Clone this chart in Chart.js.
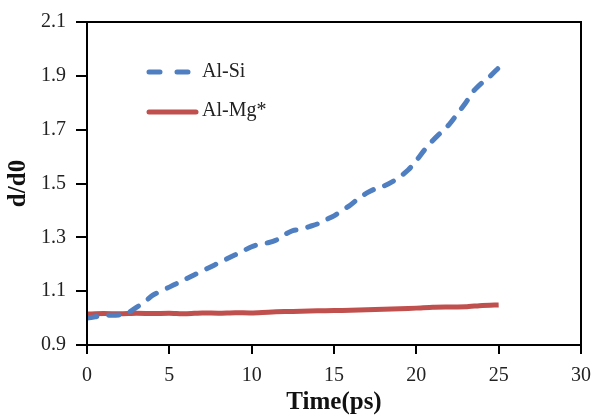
<!DOCTYPE html>
<html lang="en">
<head>
<meta charset="UTF-8">
<title>d/d0 vs time</title>
<script src="https://cdn.jsdelivr.net/npm/chart.js@4/dist/chart.umd.min.js"></script>
<style>
  html, body { margin: 0; padding: 0; background: #fff; }
  #wrap { width: 595px; height: 420px; }
</style>
</head>
<body>
<div id="wrap"><canvas id="chart" width="595" height="420"></canvas></div>
<script>
// values
const siTime = [0, 0.5, 1, 2, 2.5, 3, 3.5, 4, 4.5, 5, 5.5, 6, 6.5, 7, 7.5, 8, 8.5, 9, 9.5, 10,
  10.5, 11, 11.5, 12, 12.5, 13, 13.5, 14, 14.5, 15, 15.5, 16, 16.5, 17, 17.5, 18, 18.5, 19, 19.5, 20,
  20.5, 21, 21.5, 22, 22.5, 23, 23.5, 24, 24.5, 25];
const siRatio = [1.00, 1.005, 1.01, 1.012, 1.02, 1.04, 1.06, 1.085, 1.10, 1.115, 1.13, 1.145, 1.16, 1.175, 1.19, 1.205, 1.22, 1.235, 1.25, 1.265,
  1.275, 1.28, 1.29, 1.31, 1.325, 1.33, 1.34, 1.35, 1.365, 1.38, 1.40, 1.42, 1.445, 1.465, 1.48, 1.49, 1.505, 1.525, 1.55, 1.585,
  1.625, 1.66, 1.69, 1.72, 1.76, 1.80, 1.845, 1.875, 1.90, 1.93];
const mgTime = [0, 1, 2, 3, 4, 5, 6, 7, 8, 9, 10, 11, 12, 13, 14, 15, 16, 17, 18, 19, 20, 21, 22, 23, 24, 25];
const mgRatio = [1.015, 1.017, 1.016, 1.018, 1.017, 1.018, 1.016, 1.019, 1.018, 1.020, 1.019, 1.022, 1.024, 1.025, 1.027, 1.028,
  1.029, 1.031, 1.033, 1.035, 1.037, 1.040, 1.041, 1.042, 1.047, 1.049];
const seriesNames = ['Al-Si', 'Al-Mg*'];
const xTicks = [0, 5, 10, 15, 20, 25, 30];
const yTicks = [0.9, 1.1, 1.3, 1.5, 1.7, 1.9, 2.1];

const blue = '#4f7fc0';
const red = '#c0504d';
const serif = "'Liberation Serif', 'Times New Roman', serif";

// box round the plot plus the legend inside it
const frameAndLegend = {
  id: 'frameAndLegend',
  afterDraw(chart) {
    const ctx = chart.ctx;
    const a = chart.chartArea;
    ctx.save();
    ctx.strokeStyle = '#000';
    ctx.lineWidth = 2;
    ctx.strokeRect(a.left, a.top, a.right - a.left, a.bottom - a.top);

    ctx.lineWidth = 5;
    ctx.lineCap = 'round';
    ctx.strokeStyle = blue;
    ctx.setLineDash([11, 17]);
    ctx.beginPath();
    ctx.moveTo(149, 72); ctx.lineTo(192, 72);
    ctx.stroke();
    ctx.setLineDash([]);
    ctx.strokeStyle = red;
    ctx.beginPath();
    ctx.moveTo(149, 112); ctx.lineTo(196, 112);
    ctx.stroke();

    ctx.fillStyle = '#222';
    ctx.font = '20px ' + serif;
    ctx.textBaseline = 'middle';
    ctx.fillText(seriesNames[0], 202, 72);
    ctx.fillText(seriesNames[1], 202, 111);
    ctx.restore();
  }
};

new Chart(document.getElementById('chart'), {
  type: 'line',
  data: {
    datasets: [
      {
        label: seriesNames[0],
        data: siTime.map((t, i) => ({ x: t, y: siRatio[i] })),
        borderColor: blue,
        borderWidth: 5,
        borderDash: [10, 12],
        borderCapStyle: 'round',
        pointRadius: 0,
        tension: 0.3
      },
      {
        label: seriesNames[1],
        data: mgTime.map((t, i) => ({ x: t, y: mgRatio[i] })),
        borderColor: red,
        borderWidth: 5,
        pointRadius: 0,
        tension: 0.2
      }
    ]
  },
  options: {
    responsive: false,
    animation: false,
    layout: { padding: { top: 22, right: 0, left: 0, bottom: 0 } },
    plugins: { legend: { display: false }, tooltip: { enabled: false } },
    scales: {
      x: {
        type: 'linear',
        min: 0, max: 30,
        afterBuildTicks: s => { s.ticks = xTicks.map(v => ({ value: v })); },
        afterFit: s => { s.height = 75; s.paddingRight = 14; },
        grid: { drawOnChartArea: false, color: '#000', lineWidth: 2, tickLength: 9 },
        border: { color: '#000', width: 2 },
        ticks: { color: '#222', padding: 10, maxRotation: 0, font: { family: serif, size: 20 } },
        title: { display: true, text: 'Time(ps)', color: '#111', padding: { top: 0, bottom: 2 },
          font: { family: serif, size: 25, weight: 'bold' } }
      },
      y: {
        min: 0.9, max: 2.1,
        afterBuildTicks: s => { s.ticks = yTicks.map(v => ({ value: v })); },
        afterFit: s => { s.width = 87; },
        grid: { drawOnChartArea: false, color: '#000', lineWidth: 2, tickLength: 11 },
        border: { color: '#000', width: 2 },
        ticks: { color: '#222', padding: 10, font: { family: serif, size: 20 },
          callback: v => v.toFixed(1) },
        title: { display: true, text: 'd/d0', color: '#111', padding: { top: 4, bottom: 0 },
          font: { family: serif, size: 25, weight: 'bold' } }
      }
    }
  },
  plugins: [frameAndLegend]
});
</script>
</body>
</html>
